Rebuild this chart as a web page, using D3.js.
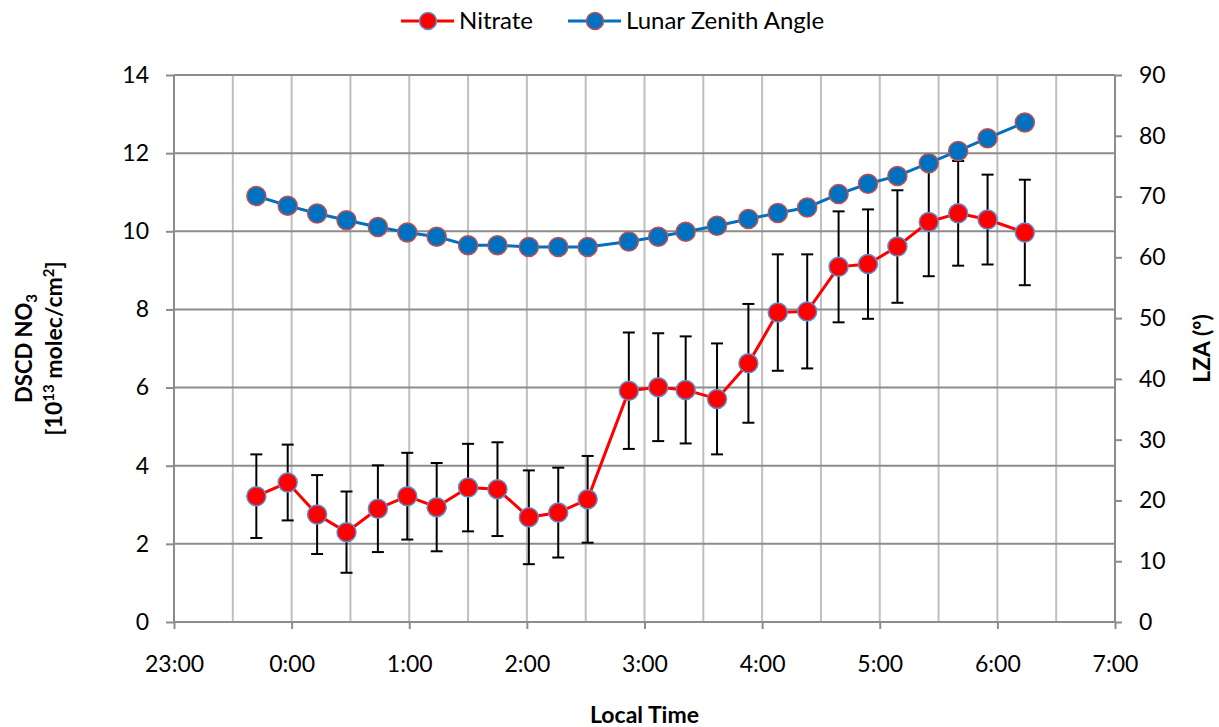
<!DOCTYPE html>
<html>
<head>
<meta charset="utf-8">
<script src="https://cdn.jsdelivr.net/npm/d3@7"></script>
<style>
  body { margin: 0; background: #fff; }
  text { font-family: Lato, "Open Sans", sans-serif; fill: #000; }
</style>
</head>
<body>
<svg id="chart"></svg>
<script>
// local times of the measurements (night 23:00 -> 7:00)
var times = ["23:42","23:58","0:13","0:28","0:44","0:59","1:14","1:30","1:45","2:01","2:16","2:31",
             "2:52","3:07","3:21","3:37","3:53","4:08","4:23","4:39","4:54","5:09","5:25","5:40","5:55","6:14"];
// nitrate DSCD, 10^13 molec/cm2
var nitrate = [3.22, 3.57, 2.75, 2.30, 2.90, 3.22, 2.94, 3.44, 3.40, 2.68, 2.80, 3.14,
               5.92, 6.01, 5.94, 5.71, 6.62, 7.92, 7.95, 9.09, 9.16, 9.61, 10.24, 10.46, 10.30, 9.97];
var nitrateErr = [1.07, 0.97, 1.01, 1.04, 1.11, 1.11, 1.13, 1.12, 1.20, 1.20, 1.15, 1.11,
                  1.49, 1.38, 1.37, 1.42, 1.52, 1.49, 1.46, 1.42, 1.40, 1.44, 1.39, 1.34, 1.15, 1.35];
// lunar zenith angle, degrees
var lza = [70.1, 68.5, 67.2, 66.1, 65.0, 64.1, 63.4, 62.0, 62.0, 61.7, 61.7, 61.7,
           62.6, 63.4, 64.2, 65.2, 66.3, 67.3, 68.2, 70.4, 72.1, 73.4, 75.5, 77.5, 79.6, 82.2];
var leftTicks = [0, 2, 4, 6, 8, 10, 12, 14];
var rightTicks = [0, 10, 20, 30, 40, 50, 60, 70, 80, 90];

function toDate(str) {
    var p = str.split(":");
    var h = +p[0], m = +p[1];
    // hours after midnight belong to the next day
    return new Date(2000, 0, h < 12 ? 2 : 1, h, m);
}

var data = times.map(function(t, i) {
    return { t: toDate(t), no3: nitrate[i], err: nitrateErr[i], lza: lza[i] };
});

var width = 1219, height = 727;
var pLeft = 174, pRight = 1115, pTop = 75, pBottom = 622;

var svg = d3.select("#chart").attr("width", width).attr("height", height);

var x = d3.scaleTime()
    .domain([new Date(2000, 0, 1, 23, 0), new Date(2000, 0, 2, 7, 0)])
    .range([pLeft, pRight]);
var y = d3.scaleLinear().domain([0, 14]).range([pBottom, pTop]);
var y2 = d3.scaleLinear().domain([0, 90]).range([pBottom, pTop]);

// vertical grid every half hour
var halfHours = d3.timeMinute.every(30).range(x.domain()[0], x.domain()[1]).slice(1);
svg.append("g").selectAll("line")
    .data(halfHours)
    .enter().append("line")
    .attr("x1", function(d) { return x(d); })
    .attr("x2", function(d) { return x(d); })
    .attr("y1", pTop).attr("y2", pBottom)
    .attr("stroke", "#bfbfbf").attr("stroke-width", 2);

// horizontal grid on the left axis
svg.append("g").selectAll("line")
    .data(leftTicks.slice(1))
    .enter().append("line")
    .attr("x1", pLeft).attr("x2", pRight)
    .attr("y1", function(d) { return y(d); })
    .attr("y2", function(d) { return y(d); })
    .attr("stroke", "#8c8c8c").attr("stroke-width", 2);

// axes
var xAxis = svg.append("g")
    .attr("transform", "translate(0," + pBottom + ")")
    .call(d3.axisBottom(x).ticks(d3.timeHour.every(1)).tickFormat(d3.timeFormat("%-H:%M")).tickSize(7).tickPadding(27));
var yAxis = svg.append("g")
    .attr("transform", "translate(" + pLeft + ",0)")
    .call(d3.axisLeft(y).tickValues(leftTicks).tickSize(8).tickPadding(17));
var y2Axis = svg.append("g")
    .attr("transform", "translate(" + pRight + ",0)")
    .call(d3.axisRight(y2).tickValues(rightTicks).tickSize(7).tickPadding(17));

[xAxis, yAxis, y2Axis].forEach(function(a) {
    a.selectAll("path, line").attr("stroke", "#8c8c8c").attr("stroke-width", 2);
    a.select(".domain").attr("d", a === xAxis ? "M" + pLeft + ",0H" + pRight
        : "M0," + pTop + "V" + pBottom);
    a.selectAll("text").style("font-size", "23px").style("font-family", "Lato, sans-serif");
});

// error bars
var bars = svg.append("g").selectAll("g")
    .data(data)
    .enter().append("g")
    .attr("stroke", "#000").attr("stroke-width", 2);
bars.append("line")
    .attr("x1", function(d) { return x(d.t); })
    .attr("x2", function(d) { return x(d.t); })
    .attr("y1", function(d) { return y(d.no3 + d.err); })
    .attr("y2", function(d) { return y(d.no3 - d.err); });
[1, -1].forEach(function(s) {
    bars.append("line")
        .attr("x1", function(d) { return x(d.t) - 6; })
        .attr("x2", function(d) { return x(d.t) + 6; })
        .attr("y1", function(d) { return y(d.no3 + s * d.err); })
        .attr("y2", function(d) { return y(d.no3 + s * d.err); });
});

// nitrate series
svg.append("path")
    .datum(data)
    .attr("fill", "none").attr("stroke", "#ff0000").attr("stroke-width", 3)
    .attr("d", d3.line().x(function(d) { return x(d.t); }).y(function(d) { return y(d.no3); }));
svg.append("g").selectAll("circle")
    .data(data)
    .enter().append("circle")
    .attr("cx", function(d) { return x(d.t); })
    .attr("cy", function(d) { return y(d.no3); })
    .attr("r", 9.5)
    .attr("fill", "#ff0000").attr("stroke", "#5b8ed0").attr("stroke-width", 1.5);

// LZA series
svg.append("path")
    .datum(data)
    .attr("fill", "none").attr("stroke", "#0070c0").attr("stroke-width", 3)
    .attr("d", d3.line().x(function(d) { return x(d.t); }).y(function(d) { return y2(d.lza); }));
svg.append("g").selectAll("circle")
    .data(data)
    .enter().append("circle")
    .attr("cx", function(d) { return x(d.t); })
    .attr("cy", function(d) { return y2(d.lza); })
    .attr("r", 9.5)
    .attr("fill", "#0070c0").attr("stroke", "#c0504d").attr("stroke-width", 1.5);

// axis titles
var midY = (pTop + pBottom) / 2;
svg.append("text")
    .attr("x", (pLeft + pRight) / 2).attr("y", 723)
    .attr("text-anchor", "middle")
    .style("font-size", "23px").style("font-weight", "bold")
    .text("Local Time");

var lt = svg.append("text")
    .attr("transform", "translate(32," + midY + ") rotate(-90)")
    .attr("text-anchor", "middle")
    .style("font-size", "22px").style("font-weight", "bold");
lt.append("tspan").text("DSCD NO");
lt.append("tspan").attr("dy", 5).style("font-size", "15px").text("3");
var lt2 = svg.append("text")
    .attr("transform", "translate(62," + midY + ") rotate(-90)")
    .attr("text-anchor", "middle")
    .style("font-size", "23px").style("font-weight", "bold");
lt2.append("tspan").text("[10");
lt2.append("tspan").attr("dy", -8).style("font-size", "15px").text("13");
lt2.append("tspan").attr("dy", 8).text(" molec/cm");
lt2.append("tspan").attr("dy", -8).style("font-size", "15px").text("2");
lt2.append("tspan").attr("dy", 8).text("]");

svg.append("text")
    .attr("transform", "translate(1210," + midY + ") rotate(-90)")
    .attr("text-anchor", "middle")
    .style("font-size", "23px").style("font-weight", "bold")
    .text("LZA (º)");

// legend
var legendItems = [
    { name: "Nitrate", line: "#ff0000", fill: "#ff0000", edge: "#5b8ed0", x0: 401 },
    { name: "Lunar Zenith Angle", line: "#0070c0", fill: "#0070c0", edge: "#c0504d", x0: 568 }
];
var lg = svg.append("g").selectAll("g")
    .data(legendItems)
    .enter().append("g")
    .attr("transform", function(d) { return "translate(" + d.x0 + ",21)"; });
lg.append("line")
    .attr("x1", 0).attr("x2", 53)
    .attr("stroke", function(d) { return d.line; }).attr("stroke-width", 3);
lg.append("circle")
    .attr("cx", 27).attr("r", 8.5)
    .attr("fill", function(d) { return d.fill; })
    .attr("stroke", function(d) { return d.edge; }).attr("stroke-width", 1.5);
lg.append("text")
    .attr("x", 58).attr("dy", "0.35em")
    .style("font-size", "24px")
    .text(function(d) { return d.name; });
</script>
</body>
</html>
